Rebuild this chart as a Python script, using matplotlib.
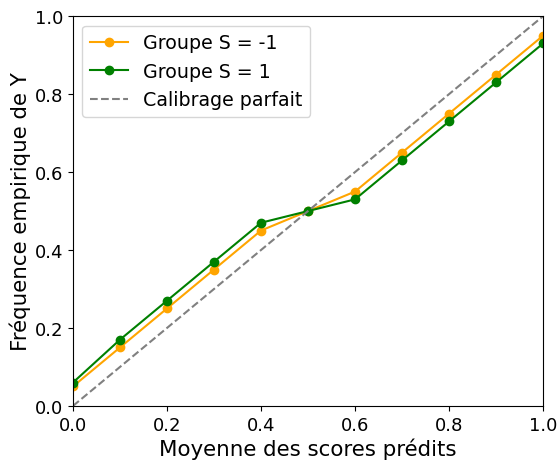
import matplotlib
matplotlib.use("Agg")
import matplotlib.pyplot as plt

x = [0.0, 0.1, 0.2, 0.3, 0.4, 0.5, 0.6, 0.7, 0.8, 0.9, 1.0]
groupe_neg = [0.05, 0.15, 0.25, 0.35, 0.45, 0.50, 0.55, 0.65, 0.75, 0.85, 0.95]
groupe_pos = [0.06, 0.17, 0.27, 0.37, 0.47, 0.50, 0.53, 0.63, 0.73, 0.83, 0.93]
diag = [0.0, 1.0]

plt.rcParams['font.size'] = 13
fig = plt.figure(figsize=(5.57, 4.64), dpi=100)
ax = fig.add_axes([0.131, 0.123, 0.844, 0.840])
ax.plot(x, groupe_neg, marker='o', color='orange', label='Groupe S = -1')
ax.plot(x, groupe_pos, marker='o', color='green', label='Groupe S = 1')
ax.plot(diag, diag, '--', color='gray', label='Calibrage parfait')
ax.set_xlim(0, 1)
ax.set_ylim(0, 1)
ax.set_xlabel('Moyenne des scores prédits', fontsize=15.4, labelpad=3)
ax.set_ylabel('Fréquence empirique de Y', fontsize=15.4, labelpad=3)
ax.legend(loc='upper left', fontsize=13.7)
fig.savefig('out.png', dpi=100)
